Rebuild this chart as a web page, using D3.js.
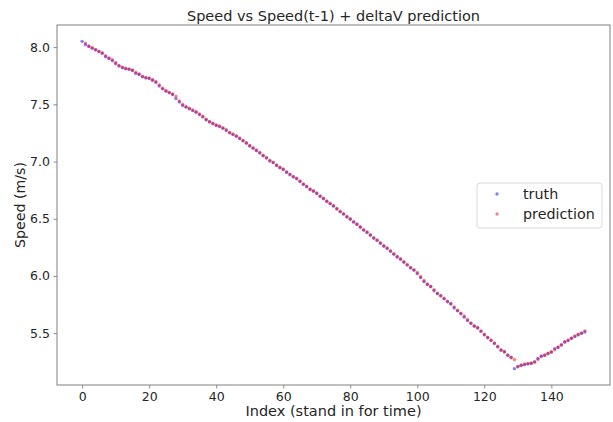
<!DOCTYPE html>
<html>
<head>
<meta charset="utf-8">
<script src="https://cdn.jsdelivr.net/npm/d3@7"></script>
<style>
  body { margin: 0; background: #fff; }
  svg { font-family: "DejaVu Sans", sans-serif; }
</style>
</head>
<body>
<div id="chart"></div>
<script>
const width = 613,
  height = 422,
  margin = {top: 25, right: 3, bottom: 37, left: 57};

const title = 'Speed vs Speed(t-1) + deltaV prediction';
const xLabel = 'Index (stand in for time)';
const yLabel = 'Speed (m/s)';
const xTicks = [0, 20, 40, 60, 80, 100, 120, 140];
const yTicks = [5.5, 6.0, 6.5, 7.0, 7.5, 8.0];
const seriesNames = ['truth', 'prediction'];

const truth = [
  8.05, 8.02, 8.005, 7.99, 7.975, 7.96, 7.945, 7.915, 7.90, 7.88,
  7.855, 7.835, 7.82, 7.81, 7.805, 7.795, 7.77, 7.76, 7.74, 7.73,
  7.725, 7.71, 7.69, 7.66, 7.635, 7.615, 7.60, 7.585, 7.55, 7.52,
  7.49, 7.475, 7.46, 7.445, 7.43, 7.41, 7.39, 7.365, 7.345, 7.33,
  7.315, 7.305, 7.29, 7.27, 7.25, 7.235, 7.22, 7.20, 7.18, 7.16,
  7.135, 7.115, 7.095, 7.075, 7.05, 7.03, 7.005, 6.99, 6.965, 6.945,
  6.93, 6.905, 6.885, 6.865, 6.85, 6.825, 6.80, 6.78, 6.755, 6.74,
  6.72, 6.695, 6.675, 6.65, 6.63, 6.61, 6.585, 6.56, 6.54, 6.515,
  6.495, 6.47, 6.45, 6.425, 6.40, 6.38, 6.355, 6.33, 6.31, 6.285,
  6.26, 6.24, 6.215, 6.19, 6.165, 6.145, 6.12, 6.095, 6.07, 6.05,
  6.02, 5.985, 5.95, 5.925, 5.905, 5.87, 5.845, 5.825, 5.80, 5.775,
  5.755, 5.72, 5.695, 5.67, 5.64, 5.61, 5.585, 5.56, 5.545, 5.515,
  5.485, 5.46, 5.435, 5.41, 5.38, 5.35, 5.335, 5.305, 5.29, 5.19,
  5.21, 5.22, 5.225, 5.23, 5.235, 5.25, 5.28, 5.30, 5.305, 5.32,
  5.335, 5.365, 5.375, 5.40, 5.425, 5.435, 5.455, 5.47, 5.485, 5.50,
  5.51
];

// no prediction for the first sample (needs t-1)
const prediction = [
  null, 8.035, 8.01, 7.995, 7.98, 7.965, 7.95, 7.925, 7.905, 7.89,
  7.865, 7.84, 7.825, 7.815, 7.81, 7.80, 7.78, 7.765, 7.745, 7.735,
  7.73, 7.715, 7.70, 7.67, 7.64, 7.62, 7.605, 7.59, 7.57, 7.53,
  7.50, 7.48, 7.465, 7.45, 7.435, 7.415, 7.395, 7.37, 7.35, 7.335,
  7.32, 7.31, 7.295, 7.28, 7.255, 7.24, 7.225, 7.205, 7.185, 7.165,
  7.14, 7.12, 7.10, 7.08, 7.055, 7.035, 7.01, 6.995, 6.97, 6.95,
  6.935, 6.91, 6.89, 6.87, 6.855, 6.83, 6.805, 6.785, 6.76, 6.745,
  6.725, 6.70, 6.68, 6.655, 6.635, 6.615, 6.59, 6.565, 6.545, 6.52,
  6.50, 6.475, 6.455, 6.43, 6.405, 6.385, 6.36, 6.335, 6.315, 6.29,
  6.265, 6.245, 6.22, 6.195, 6.17, 6.15, 6.125, 6.10, 6.075, 6.055,
  6.03, 5.995, 5.96, 5.93, 5.91, 5.88, 5.85, 5.83, 5.805, 5.78,
  5.76, 5.73, 5.70, 5.675, 5.65, 5.62, 5.59, 5.565, 5.55, 5.52,
  5.49, 5.465, 5.44, 5.415, 5.385, 5.355, 5.34, 5.31, 5.285, 5.27,
  5.205, 5.22, 5.23, 5.235, 5.24, 5.245, 5.27, 5.295, 5.31, 5.325,
  5.335, 5.355, 5.38, 5.395, 5.42, 5.44, 5.455, 5.475, 5.49, 5.50,
  5.52
];

const colors = {truth: '#0000ff', prediction: '#ff0000'};
const axisColor = '#808080',
  textColor = '#262626';

const svg = d3.select('#chart')
  .append('svg')
  .attr('width', width)
  .attr('height', height);

// matplotlib-style 5% margins around the data
const n = truth.length;
const xScale = d3.scaleLinear()
  .domain([-(n - 1) * 0.05, (n - 1) * 1.05])
  .range([margin.left, width - margin.right]);

const allValues = truth.concat(prediction).filter(v => v !== null);
const yMin = d3.min(allValues), yMax = d3.max(allValues);
const yPad = (yMax - yMin) * 0.05;
const yScale = d3.scaleLinear()
  .domain([yMin - yPad, yMax + yPad])
  .range([height - margin.bottom, margin.top]);

const xAxis = svg.append('g')
  .attr('transform', 'translate(0,' + (height - margin.bottom) + ')')
  .call(d3.axisBottom(xScale).tickValues(xTicks).tickSize(3.5).tickPadding(3.5).tickFormat(d3.format('d')));

const yAxis = svg.append('g')
  .attr('transform', 'translate(' + margin.left + ',0)')
  .call(d3.axisLeft(yScale).tickValues(yTicks).tickSize(3.5).tickPadding(3.5).tickFormat(d3.format('.1f')));

[xAxis, yAxis].forEach(ax => {
  ax.select('.domain').remove();
  ax.selectAll('.tick line').attr('stroke', axisColor).attr('stroke-width', 0.9);
  ax.selectAll('.tick text')
    .attr('fill', textColor)
    .style('font-size', '12.5px')
    .style('font-family', '"DejaVu Sans", sans-serif');
});

// frame
svg.append('rect')
  .attr('x', margin.left)
  .attr('y', margin.top)
  .attr('width', width - margin.left - margin.right)
  .attr('height', height - margin.top - margin.bottom)
  .attr('fill', 'none')
  .attr('stroke', axisColor)
  .attr('stroke-width', 1);

const dots = svg.append('g').attr('class', 'points');

const addSeries = (values, name) => {
  dots.selectAll('circle.' + name)
    .data(values.map((v, i) => ({i: i, v: v})).filter(d => d.v !== null))
    .enter()
    .append('circle')
    .attr('class', name)
    .attr('cx', d => xScale(d.i))
    .attr('cy', d => yScale(d.v))
    .attr('r', 1.7)
    .attr('fill', colors[name])
    .attr('fill-opacity', 0.5);
};
addSeries(truth, 'truth');
addSeries(prediction, 'prediction');

// title & labels
svg.append('text')
  .attr('x', (margin.left + width - margin.right) / 2)
  .attr('y', 21)
  .attr('text-anchor', 'middle')
  .attr('fill', textColor)
  .style('font-size', '14.5px')
  .text(title);

svg.append('text')
  .attr('x', (margin.left + width - margin.right) / 2)
  .attr('y', 416)
  .attr('text-anchor', 'middle')
  .attr('fill', textColor)
  .style('font-size', '14.5px')
  .text(xLabel);

svg.append('text')
  .attr('transform', 'translate(25,' + ((margin.top + height - margin.bottom) / 2) + ') rotate(-90)')
  .attr('text-anchor', 'middle')
  .attr('fill', textColor)
  .style('font-size', '14.2px')
  .text(yLabel);

// legend, center right
const legend = svg.append('g')
  .attr('transform', 'translate(477,183)');

legend.append('rect')
  .attr('width', 125)
  .attr('height', 45)
  .attr('rx', 3)
  .attr('fill', '#fff')
  .attr('fill-opacity', 0.8)
  .attr('stroke', '#d9d9d9')
  .attr('stroke-width', 1);

const items = legend.selectAll('g.item')
  .data(seriesNames)
  .enter()
  .append('g')
  .attr('class', 'item')
  .attr('transform', (d, i) => 'translate(0,' + (11 + i * 20) + ')');

items.append('circle')
  .attr('cx', 20)
  .attr('cy', 0)
  .attr('r', 1.7)
  .attr('fill', d => colors[d])
  .attr('fill-opacity', 0.5);

items.append('text')
  .attr('x', 46)
  .attr('y', 5)
  .attr('fill', textColor)
  .style('font-size', '14.3px')
  .text(d => d);
</script>
</body>
</html>
